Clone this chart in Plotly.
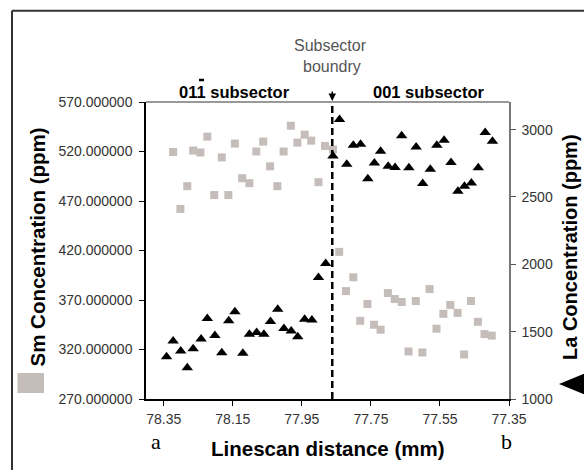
import plotly.graph_objects as go

# ---------------- data ----------------
sm_x = [78.323, 78.302, 78.282, 78.265, 78.244, 78.224, 78.204, 78.182, 78.163, 78.144,
        78.123, 78.102, 78.082, 78.062, 78.042, 78.021, 78.003, 77.982, 77.963, 77.942,
        77.923, 77.902, 77.883, 77.860, 77.842, 77.822, 77.801, 77.781, 77.760, 77.741,
        77.722, 77.701, 77.681, 77.661, 77.641, 77.620, 77.601, 77.580, 77.560, 77.540,
        77.520, 77.499, 77.480, 77.460, 77.440, 77.421, 77.400]
sm_y = [519.5, 462, 485, 521, 519, 535, 476, 514, 476, 528,
        493, 488, 520, 530, 505, 485, 520, 546, 529, 537,
        531, 489, 525.6, 522, 418.6, 379, 393, 349, 366, 345,
        340, 377, 371, 368, 318, 369, 317, 381, 341, 356,
        365, 357, 315, 369, 348, 335.6, 334]

la_x = [78.342, 78.323, 78.301, 78.282, 78.265, 78.242, 78.224, 78.202, 78.182, 78.162,
        78.144, 78.121, 78.102, 78.081, 78.060, 78.041, 78.020, 78.002, 77.981, 77.962,
        77.942, 77.921, 77.902, 77.881, 77.860, 77.841, 77.820, 77.801, 77.780, 77.759,
        77.740, 77.722, 77.700, 77.680, 77.661, 77.640, 77.619, 77.600, 77.578, 77.559,
        77.538, 77.518, 77.498, 77.479, 77.459, 77.439, 77.419, 77.398]
la_y = [1314, 1430, 1356, 1232, 1373, 1445, 1598, 1472, 1344, 1581,
        1648, 1339, 1480, 1494, 1480, 1576, 1667, 1524, 1504, 1462,
        1593, 1586, 1902, 2006, 2805, 3076, 2743, 2884, 2891, 2636,
        2753, 2839, 2728, 2718, 2955, 2716, 2871, 2599, 2706, 2884,
        2921, 2755, 2543, 2580, 2604, 2716, 2978, 2913]

x_ticks = [78.35, 78.15, 77.95, 77.75, 77.55, 77.35]
x_tick_labels = ["78.35", "78.15", "77.95", "77.75", "77.55", "77.35"]
sm_ticks = [270, 320, 370, 420, 470, 520, 570]
la_ticks = [1000, 1500, 2000, 2500, 3000]
boundary_x = 77.862

# ---------------- layout helpers ----------------
W, H = 584, 470
L, R, T, B = 146, 75, 102, 71
PW, PH = W - L - R, H - T - B


def xp(px):
    return (px - L) / PW


def yp(py):
    return (H - B - py) / PH


SM_COLOR = "#c5bdb9"
TICKFONT = dict(family="Arial, Liberation Sans, sans-serif", size=14, color="#333333")

fig = go.Figure()
fig.add_trace(go.Scatter(x=sm_x, y=sm_y, mode="markers", name="Sm",
                         marker=dict(symbol="square", size=8, color=SM_COLOR),
                         yaxis="y", showlegend=False))
fig.add_trace(go.Scatter(x=la_x, y=la_y, mode="markers", name="La",
                         marker=dict(symbol="triangle-up", size=10, color="black"),
                         yaxis="y2", showlegend=False))

fig.update_layout(
    width=W, height=H,
    margin=dict(l=L, r=R, t=T, b=B),
    paper_bgcolor="white", plot_bgcolor="white",
    xaxis=dict(range=[78.4016, 77.35], tickvals=x_ticks, ticktext=x_tick_labels,
               showline=True, linecolor="black", linewidth=1.5, ticks="outside",
               ticklen=5, tickcolor="black", tickfont=TICKFONT, showgrid=False,
               zeroline=False, ticklabelstandoff=1),
    yaxis=dict(range=[270, 570], tickvals=sm_ticks, tickformat=".6f",
               showline=True, linecolor="black", linewidth=1.5, ticks="outside",
               ticklen=5, tickcolor="black", tickfont=TICKFONT, showgrid=False,
               zeroline=False, ticklabelstandoff=4),
    yaxis2=dict(range=[1000, 3205], tickvals=la_ticks, overlaying="y", side="right",
                showline=True, linecolor="#777777", linewidth=1.5, ticks="outside",
                ticklen=5, tickcolor="#555555", tickfont=TICKFONT, showgrid=False,
                zeroline=False, ticklabelstandoff=3),
)

shapes = [
    # top border of plot (gray)
    dict(type="line", xref="paper", yref="paper", x0=0, x1=1, y0=1, y1=1,
         line=dict(color="#777777", width=1.5)),
    # subsector boundary dashed line
    dict(type="line", xref="x", yref="paper", x0=boundary_x, x1=boundary_x, y0=0, y1=1,
         line=dict(color="black", width=2.5, dash="7px,4px")),
    # outer frame (top and left)
    dict(type="line", xref="paper", yref="paper", x0=xp(12), x1=xp(590), y0=yp(10.7), y1=yp(10.7),
         line=dict(color="#333333", width=2)),
    dict(type="line", xref="paper", yref="paper", x0=xp(12), x1=xp(12), y0=yp(10.7), y1=yp(475),
         line=dict(color="#333333", width=2)),
    # Sm legend square
    dict(type="rect", xref="paper", yref="paper", x0=xp(17.5), x1=xp(44), y0=yp(393), y1=yp(373),
         fillcolor=SM_COLOR, line=dict(width=0)),
    # La legend triangle (pointing left)
    dict(type="path", xref="paper", yref="paper",
         path=f"M {xp(559)} {yp(384)} L {xp(588)} {yp(372)} L {xp(588)} {yp(396)} Z",
         fillcolor="black", line=dict(width=0)),
    # overbar on the last 1 of 011
    dict(type="line", xref="paper", yref="paper", x0=xp(199), x1=xp(204), y0=yp(80), y1=yp(80),
         line=dict(color="black", width=2.5)),
]
fig.update_layout(shapes=shapes)

BOLD = "Arial, Liberation Sans, sans-serif"
ann = [
    dict(text="<b>Sm Concentration (ppm)</b>", x=xp(37), y=yp(247.5), textangle=-90,
         font=dict(family=BOLD, size=20.5, color="black")),
    dict(text="<b>La Concentration (ppm)</b>", x=xp(570), y=yp(247), textangle=-90,
         font=dict(family=BOLD, size=20, color="black")),
    dict(text="<b>Linescan distance (mm)</b>", x=xp(328), y=yp(449),
         font=dict(family=BOLD, size=20.5, color="black")),
    dict(text="a", x=xp(156), y=yp(441),
         font=dict(family="Liberation Serif, Times New Roman, serif", size=22, color="black")),
    dict(text="b", x=xp(506), y=yp(441),
         font=dict(family="Liberation Serif, Times New Roman, serif", size=22, color="black")),
    dict(text="Subsector", x=xp(330), y=yp(45),
         font=dict(family=BOLD, size=16, color="#555555")),
    dict(text="boundry", x=xp(332), y=yp(66),
         font=dict(family=BOLD, size=16, color="#555555")),
    dict(text="<b>011 subsector</b>", x=xp(234), y=yp(92),
         font=dict(family=BOLD, size=16.5, color="black")),
    dict(text="<b>001 subsector</b>", x=xp(429), y=yp(92),
         font=dict(family=BOLD, size=16.5, color="black")),
]
for a in ann:
    a.update(xref="paper", yref="paper", showarrow=False, xanchor="center", yanchor="middle")
ann.append(dict(text="", x=boundary_x, xref="x", y=1, yref="paper", showarrow=True,
                ax=0, ay=-12, axref="pixel", ayref="pixel", arrowhead=2, arrowsize=1,
                arrowwidth=1.5, arrowcolor="black", standoff=1))
fig.update_layout(annotations=ann)

fig.write_html("out.html", config={"displayModeBar": False},
               post_script="document.body.style.margin='0';document.body.style.overflow='hidden';")
